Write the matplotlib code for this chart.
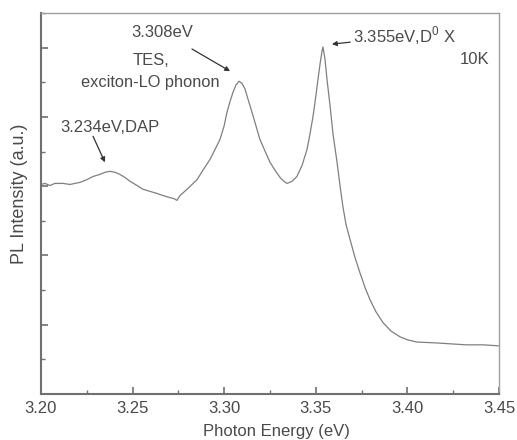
import matplotlib.pyplot as plt
from matplotlib.ticker import MultipleLocator

plt.rcParams['font.family'] = ['Liberation Sans', 'DejaVu Sans']
plt.rcParams['mathtext.fontset'] = 'custom'
plt.rcParams['mathtext.rm'] = 'Liberation Sans'

# PL spectrum at 10K
energy = [3.2000, 3.2022, 3.2049, 3.2076, 3.2120, 3.2158, 3.2213, 3.2251, 3.2284, 3.2322,
          3.2349, 3.2377, 3.2404, 3.2431, 3.2459, 3.2486, 3.2524, 3.2557, 3.2595, 3.2633,
          3.2666, 3.2704, 3.2726, 3.2742, 3.2759, 3.2797, 3.2852, 3.2884, 3.2922, 3.2950,
          3.2977, 3.2999, 3.3015, 3.3032, 3.3048, 3.3064, 3.3081, 3.3097, 3.3114, 3.3130,
          3.3152, 3.3174, 3.3195, 3.3223, 3.3250, 3.3277, 3.3305, 3.3326, 3.3343, 3.3370,
          3.3397, 3.3425, 3.3452, 3.3468, 3.3485, 3.3501, 3.3512, 3.3523, 3.3534, 3.3539,
          3.3550, 3.3561, 3.3578, 3.3594, 3.3616, 3.3632, 3.3648, 3.3665, 3.3687, 3.3714,
          3.3741, 3.3769, 3.3796, 3.3829, 3.3867, 3.3910, 3.3960, 3.4003, 3.4052, 3.4140,
          3.4233, 3.4320, 3.4413, 3.4500]
intensity = [6.05, 6.08, 6.02, 6.08, 6.08, 6.05, 6.11, 6.19, 6.28, 6.34,
             6.40, 6.43, 6.40, 6.34, 6.25, 6.14, 6.02, 5.91, 5.85, 5.79,
             5.73, 5.67, 5.64, 5.59, 5.73, 5.91, 6.19, 6.46, 6.77, 7.06,
             7.35, 7.73, 8.13, 8.45, 8.71, 8.92, 9.03, 8.97, 8.80, 8.51,
             8.13, 7.73, 7.35, 7.01, 6.69, 6.46, 6.25, 6.14, 6.08, 6.14,
             6.28, 6.60, 7.06, 7.50, 8.02, 8.63, 9.09, 9.52, 9.90, 10.02,
             9.67, 9.09, 8.31, 7.50, 6.69, 6.02, 5.41, 4.89, 4.46, 3.94,
             3.50, 3.07, 2.72, 2.37, 2.06, 1.82, 1.65, 1.56, 1.50, 1.48,
             1.45, 1.42, 1.42, 1.39]

xticks = [3.20, 3.25, 3.30, 3.35, 3.40, 3.45]

txt = '#4a4a4a'
ax_col = '#707070'

fig = plt.figure(figsize=(5.17, 4.40), dpi=100)
ax = fig.add_axes([0.0793, 0.1045, 0.8859, 0.866])

ax.plot(energy, intensity, color='#7f7f7f', lw=0.9)

ax.set_xlim(3.20, 3.45)
ax.set_ylim(0, 11)
ax.set_xticks(xticks)
ax.set_xticklabels([f'{t:.2f}' for t in xticks])
ax.xaxis.set_minor_locator(MultipleLocator(0.025))
ax.yaxis.set_major_locator(MultipleLocator(2))
ax.yaxis.set_minor_locator(MultipleLocator(1))
ax.set_yticklabels([])
ax.tick_params(which='both', direction='in', colors=ax_col, labelcolor=txt,
               labelsize=12, top=False, right=False)
ax.tick_params(which='major', length=5, width=1.2)
ax.tick_params(which='minor', length=3, width=1.0)
ax.tick_params(axis='x', pad=5)

for s in ['left', 'bottom']:
    ax.spines[s].set_color(ax_col)
    ax.spines[s].set_linewidth(1.5)
for s in ['top', 'right']:
    ax.spines[s].set_color('#a0a0a0')
    ax.spines[s].set_linewidth(1.0)

fig.text(0.534, 0.02, 'Photon Energy (eV)', ha='center', va='center',
         fontsize=12, color=txt)
fig.text(0.038, 0.559, 'PL Intensity (a.u.)', ha='center', va='center',
         rotation=90, fontsize=13, color=txt)

arrow = dict(arrowstyle='-|>', color='#333333', lw=0.9, mutation_scale=7,
             shrinkA=0, shrinkB=0)

# TES peak
ax.text(3.2660, 10.45, '3.308eV', ha='center', va='center', fontsize=12, color=txt)
ax.text(3.2600, 9.64, 'TES,', ha='center', va='center', fontsize=12, color=txt)
ax.text(3.2595, 9.00, 'exciton-LO phonon', ha='center', va='center', fontsize=11.8, color=txt)
ax.annotate('', xy=(3.3032, 9.32), xytext=(3.2824, 9.96), arrowprops=arrow)

# D0X peak
ax.annotate('3.355eV,D$^{\\mathrm{0}}$ X', xy=(3.3588, 10.10), xytext=(3.3703, 10.33),
            ha='left', va='center', fontsize=12, color=txt, arrowprops=arrow)
ax.text(3.4369, 9.67, '10K', ha='center', va='center', fontsize=12, color=txt)

# DAP band
ax.text(3.2377, 7.70, '3.234eV,DAP', ha='center', va='center', fontsize=12, color=txt)
ax.annotate('', xy=(3.2349, 6.69), xytext=(3.2284, 7.44), arrowprops=arrow)

fig.savefig('out.png', dpi=100)
